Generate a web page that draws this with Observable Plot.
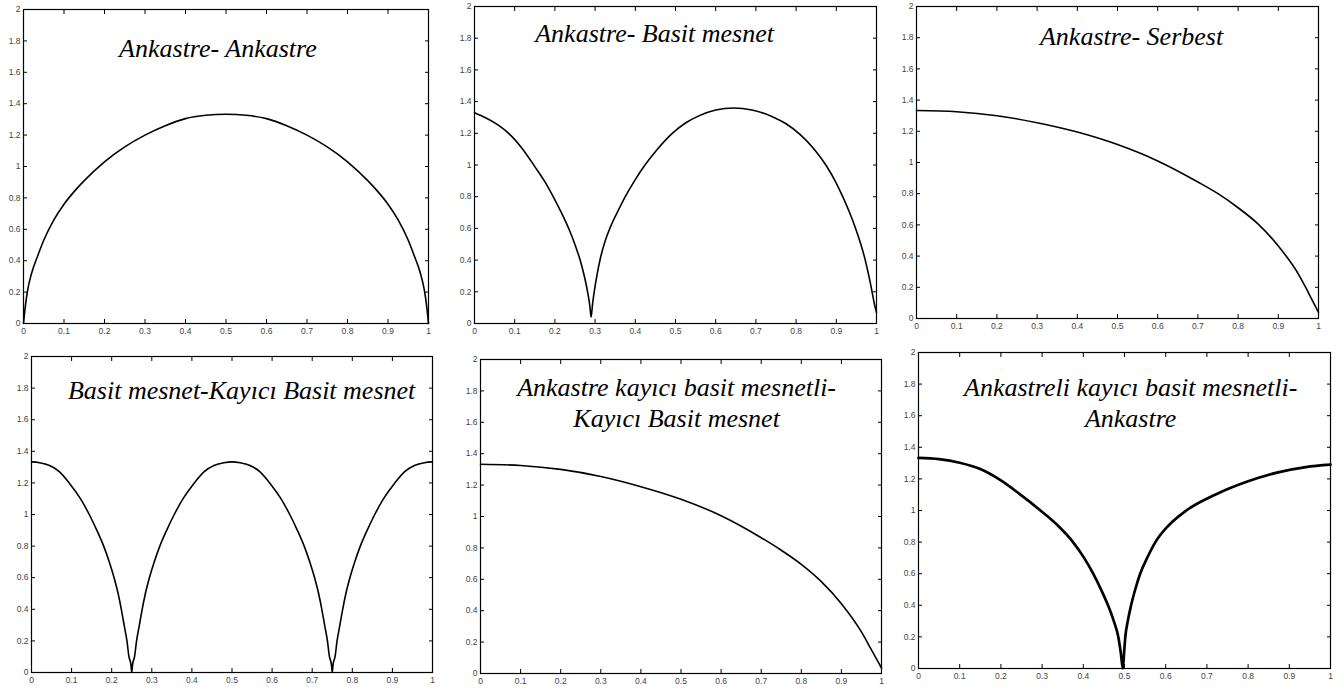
<!DOCTYPE html>
<html>
<head>
<meta charset="utf-8">
<script src="https://cdn.jsdelivr.net/npm/d3@7"></script>
<script src="https://cdn.jsdelivr.net/npm/@observablehq/plot@0.6"></script>
<style>
  html, body { margin: 0; padding: 0; background: #fff; }
  #page { position: relative; width: 1343px; height: 691px; overflow: hidden; background: #fff; }
  .ttl text { font-family: "Liberation Serif", "Times New Roman", serif !important; font-style: italic; }
  .tlab text { font-family: "Liberation Sans", Arial, sans-serif !important; }
</style>
</head>
<body>
<div id="page"></div>
<script>
// ---------- data ----------
const xTicks = [0, 0.1, 0.2, 0.3, 0.4, 0.5, 0.6, 0.7, 0.8, 0.9, 1];
const xTickLabels = ["0", "0.1", "0.2", "0.3", "0.4", "0.5", "0.6", "0.7", "0.8", "0.9", "1"];
const yTicks = [0, 0.2, 0.4, 0.6, 0.8, 1, 1.2, 1.4, 1.6, 1.8, 2];
const yTickLabels = ["0", "0.2", "0.4", "0.6", "0.8", "1", "1.2", "1.4", "1.6", "1.8", "2"];

const titles = [
  "Ankastre- Ankastre",
  "Ankastre- Basit mesnet",
  "Ankastre- Serbest",
  "Basit mesnet-Kayıcı Basit mesnet",
  "Ankastre kayıcı basit mesnetli-\nKayıcı Basit mesnet",
  "Ankastreli kayıcı basit mesnetli-\nAnkastre"
];

// Ankastre- Ankastre
const x1 = [0, 0.004, 0.01, 0.02, 0.035, 0.05, 0.075, 0.1, 0.125, 0.15, 0.2, 0.25, 0.3, 0.35, 0.4, 0.45, 0.5,
            0.55, 0.6, 0.65, 0.7, 0.75, 0.8, 0.85, 0.875, 0.9, 0.925, 0.95, 0.965, 0.98, 0.99, 0.996, 1];
const y1 = [0, 0.1, 0.21, 0.32, 0.43, 0.53, 0.66, 0.76, 0.84, 0.91, 1.03, 1.125, 1.2, 1.26, 1.305, 1.326, 1.333,
            1.326, 1.305, 1.26, 1.2, 1.125, 1.03, 0.91, 0.84, 0.76, 0.66, 0.53, 0.43, 0.32, 0.21, 0.1, 0];

// Ankastre- Basit mesnet
const x2 = [0, 0.03, 0.06, 0.085, 0.12, 0.15, 0.176, 0.198, 0.218, 0.236, 0.251, 0.264, 0.274, 0.282, 0.287, 0.29,
            0.294, 0.299, 0.305, 0.313, 0.325, 0.34, 0.357, 0.375, 0.398, 0.424, 0.455, 0.492, 0.525, 0.558, 0.6,
            0.645, 0.69, 0.741, 0.775, 0.811, 0.845, 0.874, 0.897, 0.916, 0.933, 0.948, 0.961, 0.972, 0.981, 0.989, 0.995, 1];
const y2 = [1.33, 1.295, 1.25, 1.2, 1.1, 0.99, 0.89, 0.79, 0.69, 0.59, 0.49, 0.39, 0.29, 0.19, 0.11, 0.04,
            0.13, 0.22, 0.31, 0.41, 0.52, 0.62, 0.71, 0.8, 0.9, 1.0, 1.1, 1.2, 1.265, 1.31, 1.347,
            1.36, 1.347, 1.305, 1.26, 1.19, 1.1, 1.0, 0.9, 0.8, 0.7, 0.6, 0.5, 0.4, 0.3, 0.2, 0.12, 0.07];

// Ankastre- Serbest
const x3 = [0, 0.1, 0.2, 0.3, 0.4, 0.5, 0.6, 0.7, 0.75, 0.8, 0.85, 0.9, 0.95, 0.975, 1];
const y3 = [1.333, 1.325, 1.3, 1.255, 1.195, 1.115, 1.01, 0.875, 0.8, 0.71, 0.605, 0.465, 0.285, 0.165, 0.04];

// Basit mesnet-Kayıcı Basit mesnet
const x4 = [0, 0.02, 0.045, 0.07, 0.094, 0.122, 0.144, 0.163, 0.18, 0.194, 0.206, 0.216, 0.224, 0.231, 0.238, 0.243, 0.248, 0.25,
            0.252, 0.257, 0.262, 0.269, 0.276, 0.284, 0.294, 0.306, 0.32, 0.337, 0.356, 0.378, 0.406, 0.43, 0.455, 0.48, 0.5,
            0.52, 0.545, 0.57, 0.594, 0.622, 0.644, 0.663, 0.68, 0.694, 0.706, 0.716, 0.724, 0.731, 0.738, 0.743, 0.748, 0.75,
            0.752, 0.757, 0.762, 0.769, 0.776, 0.784, 0.794, 0.806, 0.82, 0.837, 0.856, 0.878, 0.906, 0.93, 0.955, 0.98, 1];
const y4 = [1.333, 1.328, 1.31, 1.27, 1.2, 1.1, 1.0, 0.9, 0.8, 0.7, 0.6, 0.5, 0.4, 0.3, 0.2, 0.1, 0.05, 0,
            0.05, 0.1, 0.2, 0.3, 0.4, 0.5, 0.6, 0.7, 0.8, 0.9, 1.0, 1.1, 1.2, 1.27, 1.31, 1.328, 1.333,
            1.328, 1.31, 1.27, 1.2, 1.1, 1.0, 0.9, 0.8, 0.7, 0.6, 0.5, 0.4, 0.3, 0.2, 0.1, 0.05, 0,
            0.05, 0.1, 0.2, 0.3, 0.4, 0.5, 0.6, 0.7, 0.8, 0.9, 1.0, 1.1, 1.2, 1.27, 1.31, 1.328, 1.333];

// Ankastre kayıcı basit mesnetli- Kayıcı Basit mesnet
const x5 = [0, 0.1, 0.2, 0.3, 0.4, 0.5, 0.6, 0.7, 0.75, 0.8, 0.85, 0.9, 0.95, 0.975, 1];
const y5 = [1.333, 1.325, 1.3, 1.255, 1.19, 1.11, 1.005, 0.865, 0.785, 0.695, 0.585, 0.445, 0.265, 0.15, 0.035];

// Ankastreli kayıcı basit mesnetli- Ankastre
const x6 = [0, 0.05, 0.1, 0.15, 0.2, 0.245, 0.296, 0.34, 0.375, 0.402, 0.424, 0.443, 0.46, 0.474, 0.485, 0.491,
            0.496, 0.499, 0.502, 0.508, 0.516, 0.526, 0.538, 0.555, 0.575, 0.605, 0.65, 0.72, 0.8, 0.87, 0.94, 1];
const y6 = [1.333, 1.325, 1.302, 1.262, 1.19, 1.105, 1.0, 0.9, 0.8, 0.7, 0.6, 0.5, 0.4, 0.3, 0.2, 0.1,
            0.0, 0.1, 0.2, 0.3, 0.4, 0.5, 0.6, 0.7, 0.8, 0.9, 1.0, 1.1, 1.185, 1.24, 1.275, 1.29];

const seriesX = [x1, x2, x3, x4, x5, x6];
const seriesY = [y1, y2, y3, y4, y5, y6];

// ---------- layout (pixels) ----------
const ML = 30, MR = 8, MT = 8, MB = 24;
const layout = [
  {frame: [23, 9, 428, 323],    sw: 1.6, tx: 0.48,  ty: 1.70},
  {frame: [474, 6, 876, 323],   sw: 1.6, tx: 0.448, ty: 1.775},
  {frame: [916, 6, 1318, 318],  sw: 1.6, tx: 0.535, ty: 1.754},
  {frame: [31, 356, 432, 672],  sw: 1.6, tx: 0.524, ty: 1.732},
  {frame: [480, 359, 881, 673], sw: 1.6, tx: 0.489, ty: 1.569},
  {frame: [918, 352, 1330, 668], sw: 2.7, tx: 0.515, ty: 1.53}
];

const page = document.getElementById("page");
const axisText = {fontSize: 8.5, fill: "#444", stroke: "#000", className: "tlab"};

layout.forEach((L, i) => {
  const [l, t, r, b] = L.frame;
  const W = (r - l) + ML + MR;
  const H = (b - t) + MT + MB;
  const data = seriesX[i].map((x, j) => ({x, y: seriesY[i][j]}));

  const svg = Plot.plot({
    width: W,
    height: H,
    marginLeft: ML, marginRight: MR, marginTop: MT, marginBottom: MB,
    style: {background: "transparent", overflow: "visible"},
    x: {domain: [0, 1], axis: null},
    y: {domain: [0, 2], axis: null},
    marks: [
      Plot.axisY(yTicks, {anchor: "left", tickSize: -4, tickPadding: 7, tickFormat: (d) => yTickLabels[yTicks.indexOf(d)], label: null, ...axisText}),
      Plot.axisY(yTicks, {anchor: "right", tickSize: -4, tickFormat: () => "", label: null, stroke: "#000"}),
      Plot.axisX(xTicks, {anchor: "bottom", tickSize: -4, tickPadding: 8, tickFormat: (d) => xTickLabels[xTicks.indexOf(d)], label: null, ...axisText}),
      Plot.axisX(xTicks, {anchor: "top", tickSize: -4, tickFormat: () => "", label: null, stroke: "#000"}),
      Plot.frame({stroke: "#000", strokeWidth: 1.2}),
      Plot.line(data, {x: "x", y: "y", stroke: "#000", strokeWidth: L.sw, curve: "monotone-x"}),
      Plot.text([titles[i]], {
        x: () => L.tx, y: () => L.ty, text: (d) => d,
        fontFamily: "Liberation Serif",
        fontStyle: "italic", fontSize: 26, lineAnchor: "bottom", lineHeight: 1.2,
        textAnchor: "middle", fill: "#000", className: "ttl"
      })
    ]
  });

  svg.style.position = "absolute";
  svg.style.left = (l - ML) + "px";
  svg.style.top = (t - MT) + "px";
  page.appendChild(svg);
});
</script>
</body>
</html>
